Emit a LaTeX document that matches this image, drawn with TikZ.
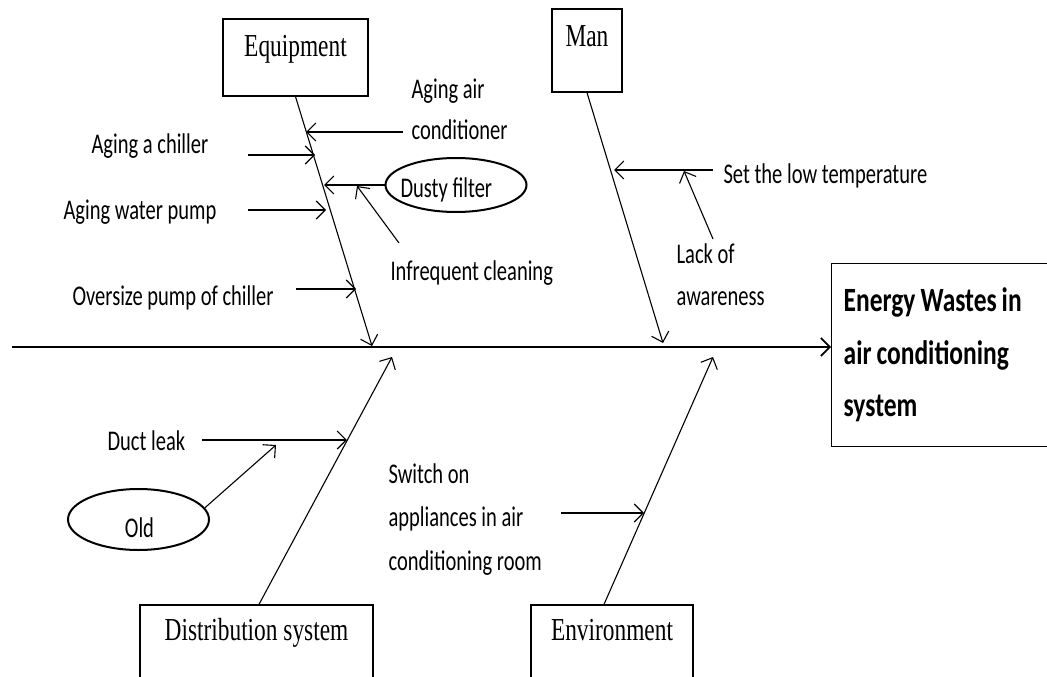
\documentclass[tikz,border=0pt]{standalone}
\usepackage{fontspec}
\usetikzlibrary{arrows.meta,shapes.geometric}
\newfontfamily\calfont[FakeStretch=0.72]{Carlito}
\newfontfamily\calbold[FakeStretch=0.75]{Carlito}
\newfontfamily\romfont[FakeStretch=0.73]{Liberation Serif}
\newcommand\tightspaces{\spaceskip=5pt plus 1pt\relax}

\begin{document}
\begin{tikzpicture}[x=1pt,y=-1pt,
  line width=1.1pt,
  tip/.style={-{Straight Barb[length=9pt,width=18pt]}},
  cause/.style={font=\calfont\fontsize{28.5}{41}\selectfont, inner sep=0pt, align=left},
  catbox/.style={draw, line width=1.3pt, font=\romfont\fontsize{32}{36}\selectfont, inner sep=0pt},
  oval/.style={draw, ellipse, line width=2pt, inner sep=0pt, minimum width=141pt},
]
\useasboundingbox (0,0) rectangle (1047,677);
\clip (0,0) rectangle (1047,677);

% effect box (runs off the right edge)
\node[draw, line width=1.3pt, anchor=north west, minimum height=183pt,
      text width=216pt, inner xsep=12pt, inner ysep=0pt, align=left,
      font=\calbold\bfseries\fontsize{34}{52.5}\selectfont,
      execute at begin node=\tightspaces]
  (effect) at (831,263) {Energy Wastes in\\air conditioning\\system};

% category boxes
\node[catbox, minimum width=145pt, text height=38pt, text depth=39pt, anchor=base] (equip) at (295.5,57) {Equipment};
\node[catbox, minimum width=70pt, text height=38pt, text depth=45pt, anchor=base] (man) at (587,47) {Man};
\node[catbox, minimum width=233pt, text height=35pt, text depth=80pt, anchor=base] (dist) at (256.5,640) {Distribution system};
\node[catbox, minimum width=162pt, text height=35pt, text depth=80pt, anchor=base] (env) at (612,640) {Environment};

% backbone
\coordinate (tail) at (12,347);
\draw[tip, line width=1.6pt] (tail) -- (tail -| effect.west);

% category bones
\coordinate (eqhead) at (372,346);
\coordinate (manhead) at (663,343);
\coordinate (disthead) at (392,357);
\coordinate (envhead) at (713,357);
\draw[tip] (equip.south) -- (eqhead);
\draw[tip] (man.south) -- (manhead);
\draw[tip] ([xshift=2.5pt]dist.north) -- (disthead);
\draw[tip] ([xshift=-8pt]env.north) -- (envhead);

% Equipment causes
\node[cause, anchor=north west] (agingac) at (411,78) {Aging air\\conditioner};
\coordinate (acs) at (403,132); \coordinate (ace) at (306,132);
\draw[tip] (acs) -- (ace);

\node[cause, anchor=base west] (chiller) at (91,153) {Aging a chiller};
\coordinate (chs) at (248,155); \coordinate (che) at (315,155);
\draw[tip] (chs) -- (che);

\node[oval, minimum height=54pt] (dusty) at (456,185) {};
\node[cause, anchor=base west] (dustytxt) at (400,197) {Dusty filter};
\coordinate (dusend) at (324,185);
\draw[tip] (dusty.west) -- (dusend);

\node[cause, anchor=base west] (cleaning) at (390,280) {Infrequent cleaning};
\coordinate (cls) at (399,243); \coordinate (cle) at (357,186);
\draw[tip] (cls) -- (cle);

\node[cause, anchor=base west] (pump) at (63,219) {Aging water pump};
\coordinate (pus) at (248,210); \coordinate (pue) at (326,210);
\draw[tip] (pus) -- (pue);

\node[cause, anchor=base west] (oversize) at (72,305) {Oversize pump of chiller};
\coordinate (ovs) at (296,289); \coordinate (ove) at (356,289);
\draw[tip] (ovs) -- (ove);

% Man causes
\node[cause, anchor=base west] (settemp) at (723,183) {Set the low temperature};
\coordinate (sts) at (713,170); \coordinate (ste) at (614,170);
\draw[tip] (sts) -- (ste);

\node[cause, anchor=north west, font=\calfont\fontsize{28.5}{42}\selectfont] (lack) at (676,243) {Lack of\\awareness};
\coordinate (las) at (713,239); \coordinate (lae) at (684,171);
\draw[tip] (las) -- (lae);

% Distribution system causes
\node[cause, anchor=base west] (duct) at (107,450) {Duct leak};
\coordinate (dus) at (202,440); \coordinate (due) at (347,440);
\draw[tip] (dus) -- (due);

\node[oval, minimum height=61pt] (old) at (138.5,519.5) {};
\node[cause, anchor=base] (oldtxt) at (139.5,537) {Old};
\coordinate (olde) at (276,445);
\draw[tip] (old.10) -- (olde);

% Environment causes
\node[cause, anchor=north west, font=\calfont\fontsize{28.5}{43.5}\selectfont] (switch) at (388,463) {Switch on\\appliances in air\\conditioning room};
\coordinate (sws) at (561,513); \coordinate (swe) at (644,513);
\draw[tip] (sws) -- (swe);
\end{tikzpicture}
\end{document}
